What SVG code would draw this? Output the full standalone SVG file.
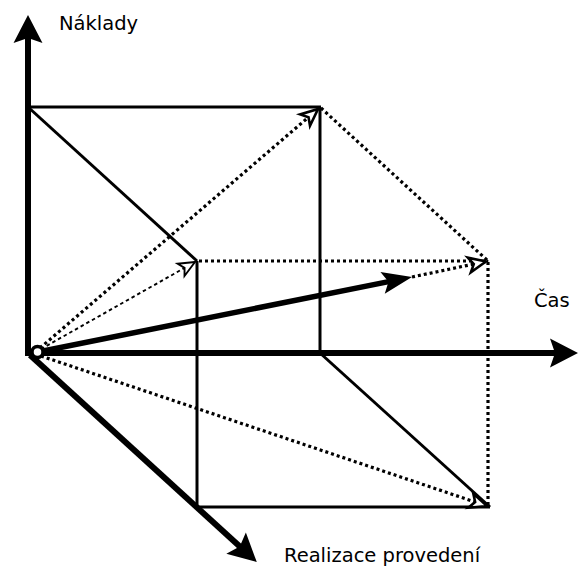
<svg xmlns="http://www.w3.org/2000/svg" width="579" height="568" viewBox="0 0 579 568">
<style>
  .axis{stroke:#000;stroke-width:6;fill:none}
  .frame{stroke:#000;stroke-width:3;fill:none}
  .dot{stroke:#000;stroke-width:3.2;stroke-dasharray:3 3;fill:none}
  .dotthin{stroke:#000;stroke-width:1.9;stroke-dasharray:3.5 3;fill:none}
  .vec{stroke:#000;stroke-width:5.5;fill:none}
  .lbl{font-family:"DejaVu Sans","Liberation Sans",sans-serif;font-size:19.5px;fill:#000}
</style>
<defs>
  <marker id="axhead" markerUnits="userSpaceOnUse" viewBox="-10 -16 32 32" markerWidth="32" markerHeight="32" refX="0" refY="0" orient="auto" overflow="visible">
    <path d="M20,0 L-8,-14.5 L-3,0 L-8,14.5 Z" fill="#000"/>
  </marker>
  <marker id="vechead" markerUnits="userSpaceOnUse" viewBox="-12 -12 34 24" markerWidth="34" markerHeight="24" refX="0" refY="0" orient="auto" overflow="visible">
    <path d="M20,0 L-10,-11 L-4,0 L-10,11 Z" fill="#000"/>
  </marker>
  <marker id="openhead" markerUnits="userSpaceOnUse" viewBox="-20 -10 22 20" markerWidth="22" markerHeight="20" refX="0" refY="0" orient="auto" overflow="visible">
    <path d="M0,0 L-17,-7.5 L-12.5,0 L-17,7.5 Z" fill="#fff" stroke="#000" stroke-width="2.6" stroke-linejoin="miter"/>
  </marker>
  <marker id="openthin" markerUnits="userSpaceOnUse" viewBox="-20 -10 22 20" markerWidth="22" markerHeight="20" refX="0" refY="0" orient="auto" overflow="visible">
    <path d="M0,0 L-16,-7 L-12,0 L-16,7 Z" fill="#fff" stroke="#000" stroke-width="1.9" stroke-linejoin="miter"/>
  </marker>
</defs>
<rect width="579" height="568" fill="#fff"/>

<g id="frame">
  <line class="frame" x1="28" y1="107" x2="321" y2="107"/>
  <line class="frame" x1="320" y1="107" x2="320" y2="353"/>
  <line class="frame" x1="28" y1="107" x2="197" y2="261"/>
  <line class="frame" x1="197" y1="261" x2="197" y2="508"/>
  <line class="frame" x1="196" y1="507" x2="490" y2="507"/>
  <line class="frame" x1="320" y1="353" x2="490" y2="507"/>
  <line class="dot" x1="321" y1="108" x2="488" y2="261"/>
  <line class="dot" x1="199" y1="261" x2="488" y2="261"/>
  <line class="dot" x1="488" y1="262" x2="488" y2="507"/>
</g>

<g id="axes">
  <line id="axis-naklady" class="axis" x1="28" y1="356" x2="28" y2="35" marker-end="url(#axhead)"/>
  <line id="axis-cas" class="axis" x1="28" y1="353" x2="558" y2="353" marker-end="url(#axhead)"/>
  <line id="axis-realizace" class="axis" x1="30" y1="355" x2="242" y2="548.5" marker-end="url(#axhead)"/>
</g>

<g id="connectors">
  <line class="dot" x1="40" y1="348" x2="318" y2="109" marker-end="url(#openhead)"/>
  <line class="dotthin" x1="41" y1="349" x2="195" y2="262" marker-end="url(#openthin)"/>
  <line class="dot" x1="41" y1="356" x2="487" y2="506" marker-end="url(#openhead)"/>
  <line class="vec" x1="38" y1="352" x2="392.4" y2="280.9" marker-end="url(#vechead)"/>
  <line class="dot" x1="412" y1="277" x2="486" y2="261.5" marker-end="url(#openhead)"/>
</g>

<g id="origin">
  <circle cx="37.5" cy="352" r="5.5" fill="#fff" stroke="#000" stroke-width="3.5"/>
</g>

<g id="labels">
  <text class="lbl" x="59" y="30">Náklady</text>
  <text class="lbl" x="534" y="307">Čas</text>
  <text class="lbl" x="284" y="562">Realizace provedení</text>
</g>
</svg>
